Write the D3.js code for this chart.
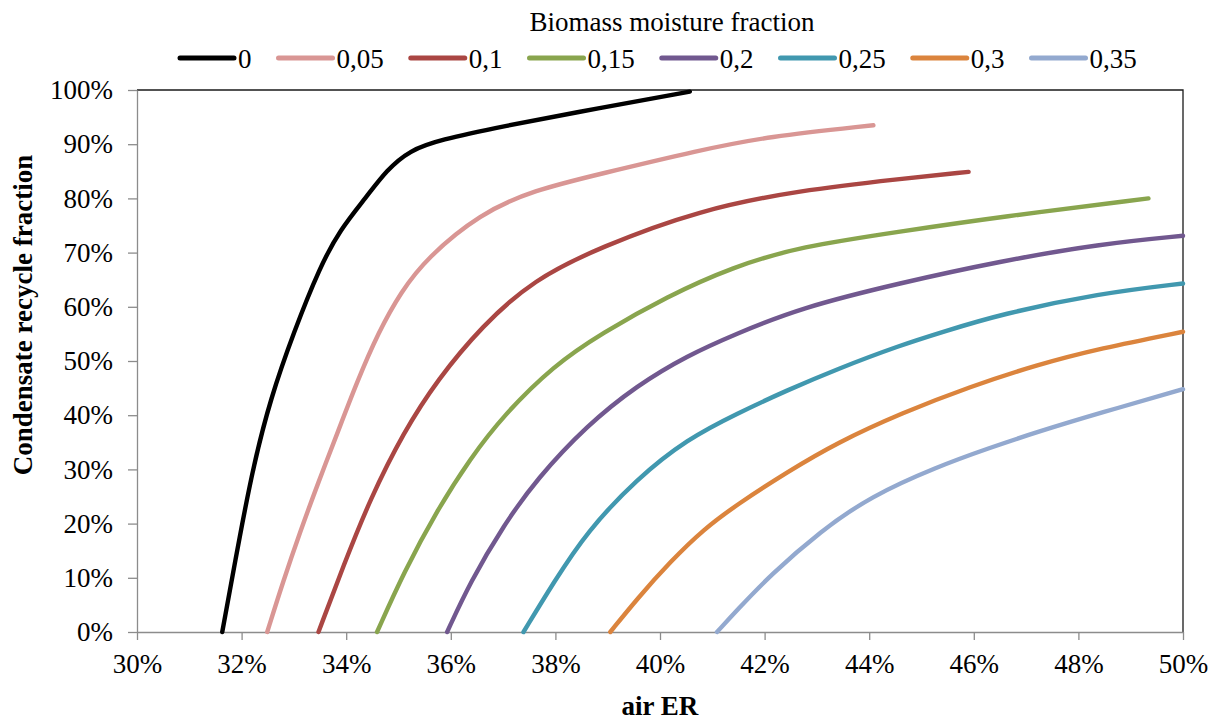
<!DOCTYPE html>
<html>
<head>
<meta charset="utf-8">
<script src="https://cdn.jsdelivr.net/npm/d3@7/dist/d3.min.js"></script>
<style>
  body { margin: 0; background: #fff; }
  svg { display: block; font-family: "Liberation Serif", "Times New Roman", serif; }
</style>
</head>
<body>
<svg id="chart" width="1218" height="724"></svg>
<script>
/* DATA: [air ER %, condensate recycle %] */
var moistureLabels = ['0', '0,05', '0,1', '0,15', '0,2', '0,25', '0,3', '0,35'];
var seriesColors = ['#000000', '#d99694', '#aa4643', '#89a54e', '#71588f', '#4198af', '#db843d', '#93a9cf'];

var m000 = [[31.63,0],[31.98,18.5],[32.23,30.8],[32.55,43.0],[33.0,55.4],[33.5,67.4],[33.88,74.2],[34.39,80.3],[34.77,85.2],[35.22,88.9],[35.79,90.8],[36.94,93.2],[38.85,96.7],[40.57,99.7]];
var m005 = [[32.49,0],[32.79,9.2],[33.12,18.5],[33.47,27.7],[33.84,36.9],[34.2,46.0],[34.62,55.4],[35.05,62.8],[35.54,69.0],[36.56,77.2],[37.58,81.5],[38.85,84.5],[40.76,88.9],[42.04,91.4],[44.08,93.5]];
var m010 = [[33.47,0],[33.95,12.3],[34.46,24.6],[35.10,36.9],[35.74,46.5],[36.6,56.5],[37.58,65.0],[38.85,71.0],[40.76,77.9],[42.68,81.5],[44.59,83.6],[45.90,84.9]];
var m015 = [[34.59,0],[35.10,11.0],[35.74,22.5],[36.37,32.0],[37.01,40.0],[37.97,49.2],[38.88,55.1],[40.13,61.9],[41.40,67.4],[42.68,71.1],[44.59,73.9],[46.50,76.6],[49.34,80.0]];
var m020 = [[35.93,0],[36.37,9.2],[37.01,19.7],[37.65,28.3],[38.60,38.1],[39.56,45.5],[40.52,51.0],[41.45,55.0],[42.68,59.8],[44.59,64.4],[46.50,68.4],[48.41,71.6],[50.0,73.1]];
var m025 = [[37.39,0],[37.97,9.2],[38.60,18.5],[39.56,28.3],[40.52,35.6],[41.47,40.3],[42.43,44.6],[43.38,48.5],[44.59,52.9],[45.42,55.4],[46.50,58.6],[48.41,62.5],[50.0,64.3]];
var m030 = [[39.05,0],[39.56,6.1],[40.20,13.0],[40.84,19.0],[41.47,23.5],[42.43,29.5],[43.38,34.9],[44.62,40.4],[45.94,45.3],[47.21,49.3],[48.41,52.3],[50.0,55.4]];
var m035 = [[41.09,0],[41.47,4.0],[42.11,10.5],[43.07,18.6],[44.02,25.0],[45.30,30.5],[46.31,34.0],[47.21,36.9],[48.41,40.4],[50.0,44.8]];
var allSeries = [m000, m005, m010, m015, m020, m025, m030, m035];

var xTicks = [30, 32, 34, 36, 38, 40, 42, 44, 46, 48, 50];
var yTicks = [0, 10, 20, 30, 40, 50, 60, 70, 80, 90, 100];

/* LAYOUT */
var plot = { left: 137, right: 1183, top: 90, bottom: 632 };
var svg = d3.select('#chart');

var x = d3.scaleLinear().domain([30, 50]).range([plot.left, plot.right]);
var y = d3.scaleLinear().domain([0, 100]).range([plot.bottom, plot.top]);

/* FRAME: TOP AND RIGHT EDGES */
svg.append('path')
  .attr('d', 'M' + plot.left + ',' + plot.top + 'H' + plot.right + 'V' + plot.bottom)
  .attr('fill', 'none').attr('stroke', '#1a1a1a').attr('stroke-width', 1.3);

/* AXES */
var pct = function(d) { return d + '%'; };
var xAxis = svg.append('g')
  .attr('transform', 'translate(0,' + plot.bottom + ')')
  .call(d3.axisBottom(x).tickValues(xTicks).tickFormat(pct).tickSize(8).tickSizeOuter(0).tickPadding(14));
var yAxis = svg.append('g')
  .attr('transform', 'translate(' + plot.left + ',0)')
  .call(d3.axisLeft(y).tickValues(yTicks).tickFormat(pct).tickSize(9).tickSizeOuter(0).tickPadding(15));

[xAxis, yAxis].forEach(function(g) {
  g.selectAll('path.domain').attr('stroke', '#8c8c8c').attr('stroke-width', 1.3);
  g.selectAll('.tick line').attr('stroke', '#8c8c8c').attr('stroke-width', 1.3);
  g.selectAll('.tick text').attr('fill', '#000').style('font-size', '27px')
    .style('font-family', '"Liberation Serif", "Times New Roman", serif');
});

/* CURVES */
var line = d3.line()
  .x(function(d) { return x(d[0]); })
  .y(function(d) { return y(d[1]); })
  .curve(d3.curveBasis);

svg.append('g').selectAll('path')
  .data(allSeries).enter().append('path')
  .attr('d', line)
  .attr('fill', 'none')
  .attr('stroke', function(d, i) { return seriesColors[i]; })
  .attr('stroke-width', 4.4)
  .attr('stroke-linecap', 'round')
  .attr('stroke-linejoin', 'round');

/* AXIS TITLES */
svg.append('text')
  .attr('x', 660).attr('y', 715)
  .attr('text-anchor', 'middle')
  .style('font-size', '27px').style('font-weight', 'bold')
  .text('air ER');

svg.append('text')
  .attr('transform', 'translate(32,315) rotate(-90)')
  .attr('text-anchor', 'middle')
  .style('font-size', '27px').style('font-weight', 'bold')
  .text('Condensate recycle fraction');

/* LEGEND */
svg.append('text')
  .attr('x', 672).attr('y', 31)
  .attr('text-anchor', 'middle')
  .style('font-size', '27px')
  .text('Biomass moisture fraction');

var legend = svg.append('g');
var cursor = 180;
moistureLabels.forEach(function(label, i) {
  legend.append('line')
    .attr('x1', cursor).attr('x2', cursor + 54)
    .attr('y1', 58).attr('y2', 58)
    .attr('stroke', seriesColors[i]).attr('stroke-width', 5)
    .attr('stroke-linecap', 'round');
  var t = legend.append('text')
    .attr('x', cursor + 58).attr('y', 68)
    .style('font-size', '27px')
    .text(label);
  cursor = cursor + 58 + t.node().getComputedTextLength() + 27;
});
</script>
</body>
</html>
